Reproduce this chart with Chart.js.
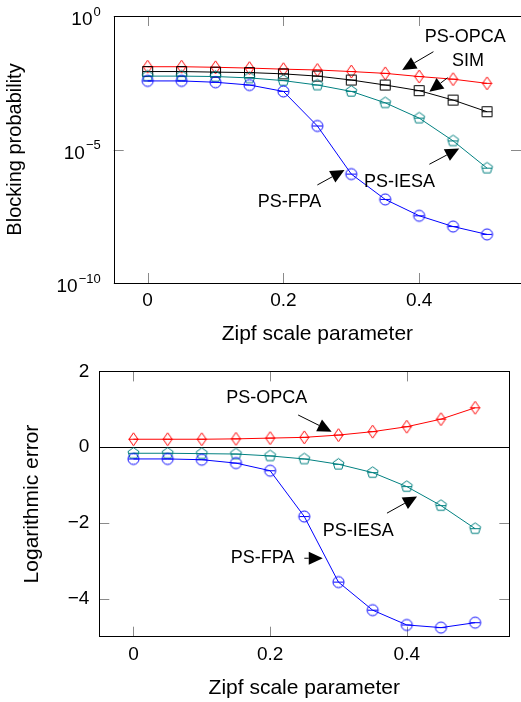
<!DOCTYPE html>
<html>
<head>
<meta charset="utf-8">
<script src="https://cdn.jsdelivr.net/npm/chart.js@4/dist/chart.umd.min.js"></script>
<style>
  html, body { margin: 0; padding: 0; background: #fff; }
  #wrap { position: relative; width: 521px; height: 702px; overflow: hidden; }
  canvas { position: absolute; left: 0; }
</style>
</head>
<body>
<div id="wrap">
  <canvas id="chart-block" width="521" height="350" style="top:0"></canvas>
  <canvas id="chart-error" width="521" height="352" style="top:350px"></canvas>
</div>
<script>
// x values, shared by both plots
let zipf = [0, 0.05, 0.1, 0.15, 0.2, 0.25, 0.3, 0.35, 0.4, 0.45, 0.5];

// top plot: blocking probability (log axis)
let blockOPCA = [1.26e-2, 1.26e-2, 1.20e-2, 1.12e-2, 1.02e-2, 9.5e-3, 8.3e-3, 7.1e-3, 5.4e-3, 4.3e-3, 3.0e-3];
let blockSIM  = [8.3e-3, 8.3e-3, 7.9e-3, 7.6e-3, 6.8e-3, 5.6e-3, 4.0e-3, 2.6e-3, 1.6e-3, 7.1e-4, 2.6e-4];
let blockIESA = [5.6e-3, 5.6e-3, 5.4e-3, 4.8e-3, 3.8e-3, 2.6e-3, 1.5e-3, 5.6e-4, 1.5e-4, 2.1e-5, 2.0e-6];
let blockFPA  = [3.7e-3, 3.7e-3, 3.3e-3, 2.6e-3, 1.5e-3, 7.6e-5, 1.2e-6, 1.35e-7, 3.3e-8, 1.3e-8, 6.6e-9];

// bottom plot: logarithmic error vs SIM
let errOPCA = [0.21, 0.21, 0.21, 0.22, 0.24, 0.26, 0.32, 0.41, 0.54, 0.74, 1.04];
let errIESA = [-0.16, -0.16, -0.17, -0.18, -0.23, -0.31, -0.45, -0.67, -1.04, -1.54, -2.15];
let errFPA  = [-0.31, -0.31, -0.33, -0.42, -0.62, -1.83, -3.56, -4.30, -4.69, -4.76, -4.63];

let xTicks = [0, 0.2, 0.4];
let blockTicks = [1, 1e-5, 1e-10];
let errTicks = [-4, -2, 0, 2];

// pin labels: text spot, arrow start, arrow tip (data units)
let blockNotes = [
  { text: 'PS-OPCA', at: [0.468, 1.68e-1], from: [0.421, 4.6e-2], to: [0.375, 9.5e-3] },
  { text: 'SIM',     at: [0.472, 2.04e-2], from: [0.442, 4.9e-3], to: [0.415, 1.45e-3] },
  { text: 'PS-IESA', at: [0.371, 6.2e-7],  from: [0.415, 2.8e-6], to: [0.459, 1.1e-5] },
  { text: 'PS-FPA',  at: [0.209, 1.1e-7],  from: [0.250, 4.7e-7], to: [0.290, 1.7e-6] }
];
let errNotes = [
  { text: 'PS-OPCA', at: [0.195, 1.29],  from: [0.241, 0.85],  to: [0.290, 0.41] },
  { text: 'PS-IESA', at: [0.329, -2.20], from: [0.371, -1.74], to: [0.415, -1.30] },
  { text: 'PS-FPA',  at: [0.189, -2.93], from: [0.250, -2.93], to: [0.277, -2.93] }
];

Chart.defaults.font.family = "'Liberation Sans', Arial, sans-serif";
Chart.defaults.color = '#000';

function makeMark(shape, color) {
  let c = document.createElement('canvas');
  c.width = 15; c.height = 15;
  let ctx = c.getContext('2d');
  ctx.strokeStyle = color;
  ctx.lineWidth = 1;
  ctx.translate(7.5, 7.5);
  ctx.beginPath();
  if (shape == 'circle') ctx.arc(0, 0, 5.5, 0, 2 * Math.PI);
  else if (shape == 'square') ctx.rect(-5, -5, 10, 10);
  else if (shape == 'diamond') {
    ctx.moveTo(0, -6.5); ctx.lineTo(4.5, 0); ctx.lineTo(0, 6.5); ctx.lineTo(-4.5, 0); ctx.closePath();
  } else {
    for (let i = 0; i < 5; i++) {
      let a = -Math.PI / 2 + i * 2 * Math.PI / 5;
      ctx.lineTo(5.8 * Math.cos(a), 5.8 * Math.sin(a));
    }
    ctx.closePath();
  }
  ctx.stroke();
  ctx.beginPath(); ctx.moveTo(-5, 0); ctx.lineTo(5, 0); ctx.stroke();
  return c;
}

function series(values, color, shape) {
  return {
    data: zipf.map((x, i) => ({ x: x, y: values[i] })),
    borderColor: color,
    borderWidth: 1,
    backgroundColor: 'transparent',
    pointStyle: makeMark(shape, color),
    pointRadius: 6,
    tension: 0,
    fill: false
  };
}

function arrow(ctx, x0, y0, x1, y1) {
  let a = Math.atan2(y1 - y0, x1 - x0);
  let L = 14, W = 6.5;
  let bx = x1 - L * Math.cos(a), by = y1 - L * Math.sin(a);
  ctx.beginPath(); ctx.moveTo(x0, y0); ctx.lineTo(bx, by); ctx.stroke();
  ctx.beginPath();
  ctx.moveTo(x1, y1);
  ctx.lineTo(bx + W * Math.sin(a), by - W * Math.cos(a));
  ctx.lineTo(bx - W * Math.sin(a), by + W * Math.cos(a));
  ctx.closePath();
  ctx.fill();
}

// frame, inner ticks, pins
function decor(notes, zeroLine, powerLabels) {
  return {
    id: 'decor',
    beforeDatasetsDraw(chart) {
      let ctx = chart.ctx, a = chart.chartArea;
      let sx = chart.scales.x, sy = chart.scales.y;
      ctx.save();
      ctx.strokeStyle = '#8a8a8a';
      ctx.lineWidth = 1;
      ctx.beginPath();
      sx.ticks.forEach(t => {
        let p = Math.round(sx.getPixelForValue(t.value)) + 0.5;
        ctx.moveTo(p, a.bottom); ctx.lineTo(p, a.bottom - 10);
        ctx.moveTo(p, a.top); ctx.lineTo(p, a.top + 10);
      });
      sy.ticks.forEach(t => {
        let p = Math.round(sy.getPixelForValue(t.value)) + 0.5;
        ctx.moveTo(a.left, p); ctx.lineTo(a.left + 10, p);
        ctx.moveTo(a.right, p); ctx.lineTo(a.right - 10, p);
      });
      ctx.stroke();
      if (zeroLine) {
        let p = Math.round(sy.getPixelForValue(0)) + 0.5;
        ctx.strokeStyle = '#000';
        ctx.lineWidth = 1.2;
        ctx.beginPath(); ctx.moveTo(a.left, p); ctx.lineTo(a.right, p); ctx.stroke();
      }
      ctx.restore();
    },
    afterDatasetsDraw(chart) {
      let ctx = chart.ctx, a = chart.chartArea;
      let sx = chart.scales.x, sy = chart.scales.y;
      ctx.save();
      ctx.strokeStyle = '#000';
      ctx.lineWidth = 1;
      ctx.strokeRect(Math.round(a.left) + 0.5, Math.round(a.top) + 0.5,
        Math.round(a.right - a.left), Math.round(a.bottom - a.top));
      ctx.fillStyle = '#000';
      ctx.font = "18px 'Liberation Sans', Arial, sans-serif";
      ctx.textAlign = 'center';
      ctx.textBaseline = 'middle';
      notes.forEach(n => {
        ctx.fillText(n.text, sx.getPixelForValue(n.at[0]), sy.getPixelForValue(n.at[1]));
        arrow(ctx, sx.getPixelForValue(n.from[0]), sy.getPixelForValue(n.from[1]),
          sx.getPixelForValue(n.to[0]), sy.getPixelForValue(n.to[1]));
      });
      if (powerLabels) {
        sy.ticks.forEach(t => {
          let p = sy.getPixelForValue(t.value);
          let e = String(Math.round(Math.log10(t.value))).replace('-', '\u2212');
          let right = a.left - 13;
          ctx.textAlign = 'right';
          ctx.font = "13px 'Liberation Sans', Arial, sans-serif";
          ctx.fillText(e, right, p - 4);
          let ew = ctx.measureText(e).width;
          ctx.font = "19px 'Liberation Sans', Arial, sans-serif";
          ctx.fillText('10', right - ew - 1, p + 4);
        });
      }
      ctx.restore();
    }
  };
}

let tickFont = { size: 19 };

new Chart(document.getElementById('chart-block').getContext('2d'), {
  type: 'line',
  data: {
    datasets: [
      series(blockFPA, '#0000ff', 'circle'),
      series(blockIESA, '#008080', 'pentagon'),
      series(blockSIM, '#000000', 'square'),
      series(blockOPCA, '#ff0000', 'diamond')
    ]
  },
  options: {
    responsive: false,
    animation: false,
    events: [],
    layout: { autoPadding: false, padding: { top: 16, right: 0, left: 0, bottom: 0 } },
    plugins: { legend: { display: false }, tooltip: { enabled: false } },
    scales: {
      x: {
        type: 'linear', min: -0.05, max: 0.55,
        afterBuildTicks: s => { s.ticks = xTicks.map(v => ({ value: v })); },
        afterFit: s => { s.height = 67; },
        grid: { display: false, drawTicks: false },
        border: { display: false },
        ticks: { font: tickFont, padding: 6, callback: v => String(v) },
        title: { display: true, text: 'Zipf scale parameter', font: { size: 21 }, padding: { top: 0, bottom: 3 } }
      },
      y: {
        type: 'logarithmic', min: 1e-10, max: 1,
        afterBuildTicks: s => { s.ticks = blockTicks.map(v => ({ value: v })); },
        afterFit: s => { s.width = 113.7; },
        grid: { display: false, drawTicks: false },
        border: { display: false },
        ticks: { display: false },
        title: { display: true, text: 'Blocking probability', font: { size: 20 }, padding: { top: 3, bottom: 0 } }
      }
    }
  },
  plugins: [decor(blockNotes, false, true)]
});

new Chart(document.getElementById('chart-error').getContext('2d'), {
  type: 'line',
  data: {
    datasets: [
      series(errFPA, '#0000ff', 'circle'),
      series(errIESA, '#008080', 'pentagon'),
      series(errOPCA, '#ff0000', 'diamond')
    ]
  },
  options: {
    responsive: false,
    animation: false,
    events: [],
    layout: { autoPadding: false, padding: { top: 21, right: 11.7, left: 0, bottom: 0 } },
    plugins: { legend: { display: false }, tooltip: { enabled: false } },
    scales: {
      x: {
        type: 'linear', min: -0.05, max: 0.55,
        afterBuildTicks: s => { s.ticks = xTicks.map(v => ({ value: v })); },
        afterFit: s => { s.height = 65.3; },
        grid: { display: false, drawTicks: false },
        border: { display: false },
        ticks: { font: tickFont, padding: 7, callback: v => String(v) },
        title: { display: true, text: 'Zipf scale parameter', font: { size: 21 }, padding: { top: 0, bottom: 1 } }
      },
      y: {
        type: 'linear', min: -5, max: 2,
        afterBuildTicks: s => { s.ticks = errTicks.map(v => ({ value: v })); },
        afterFit: s => { s.width = 99.3; },
        grid: { display: false, drawTicks: false },
        border: { display: false },
        ticks: { font: tickFont, padding: 10, callback: v => String(v).replace('-', '\u2212') },
        title: { display: true, text: 'Logarithmic error', font: { size: 21 }, padding: { top: 19.5, bottom: 0 } }
      }
    }
  },
  plugins: [decor(errNotes, true, false)]
});
</script>
</body>
</html>
